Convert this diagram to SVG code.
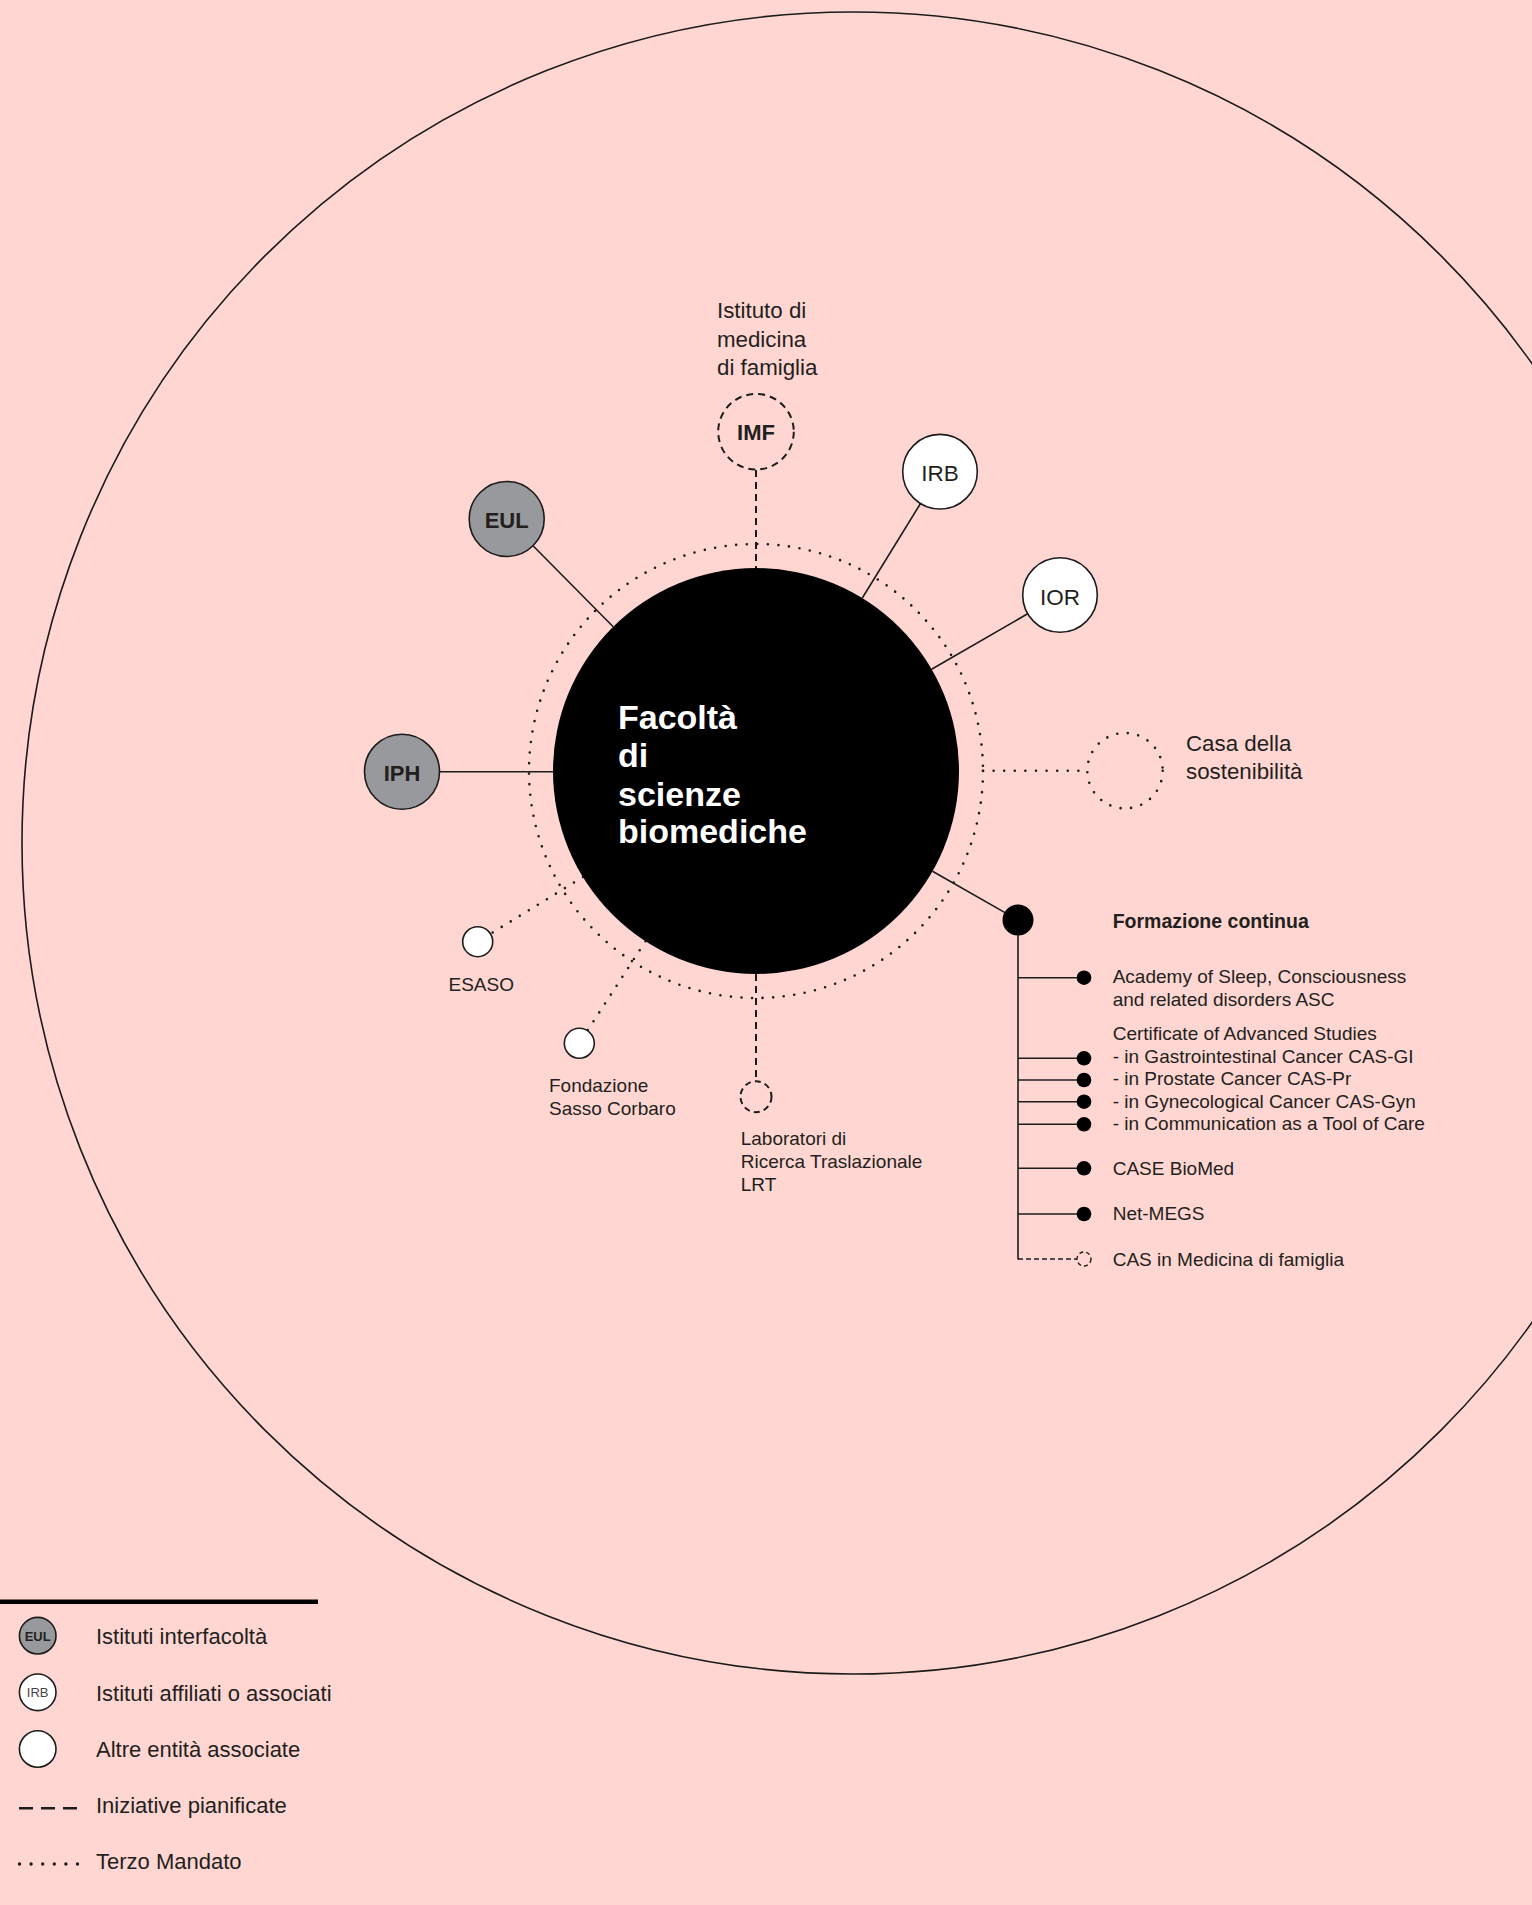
<svg xmlns="http://www.w3.org/2000/svg" width="1532" height="1905" viewBox="0 0 1532 1905">
<style>
text{font-family:"Liberation Sans",Arial,sans-serif;fill:#231f20}
.ln{stroke:#1c1c1c;stroke-width:1.6;fill:none}
.dot{stroke:#1c1c1c;stroke-width:2.6;fill:none;stroke-dasharray:0 10.6;stroke-linecap:round}
.dash{stroke:#1c1c1c;stroke-width:2;fill:none;stroke-dasharray:7 5}
.gray{fill:#98999c;stroke:#1c1c1c;stroke-width:1.6}
.white{fill:#ffffff;stroke:#1c1c1c;stroke-width:1.6}
.lbl{font-size:22.3px}
.sm{font-size:19px}
.nb{font-size:22px;font-weight:bold;text-anchor:middle}
.nr{font-size:22.5px;text-anchor:middle}
.lg{font-size:22px}
.bd{fill:#000}
.wt{font-size:34px;font-weight:bold;fill:#fff}
</style>
<rect width="1532" height="1905" fill="#ffd6d1"/>
<circle class="ln" cx="853" cy="843" r="831"/>

<g id="connectors">
  <line class="dash" x1="756" y1="470" x2="756" y2="568"/>
  <line class="ln" x1="862.3" y1="598" x2="920.5" y2="503.5"/>
  <line class="ln" x1="931.6" y1="669.3" x2="1027.6" y2="613.8"/>
  <line class="ln" x1="613.2" y1="626.7" x2="533" y2="545.7"/>
  <line class="ln" x1="553" y1="771.7" x2="439.5" y2="771.7"/>
  <line class="dot" x1="983" y1="770.7" x2="1087" y2="770.7"/>
  <line class="dot" x1="583" y1="877" x2="491" y2="933.5"/>
  <line class="dot" x1="645.5" y1="941.3" x2="587.5" y2="1030.5"/>
  <line class="dash" x1="756" y1="974" x2="756" y2="1081"/>
  <line class="ln" x1="932.5" y1="871.3" x2="1005" y2="912.6"/>
  <line class="ln" x1="1018" y1="920" x2="1018" y2="1259.5"/>
  <line class="ln" x1="1018" y1="977.7" x2="1084" y2="977.7"/>
  <line class="ln" x1="1018" y1="1058.3" x2="1084" y2="1058.3"/>
  <line class="ln" x1="1018" y1="1080" x2="1084" y2="1080"/>
  <line class="ln" x1="1018" y1="1101.7" x2="1084" y2="1101.7"/>
  <line class="ln" x1="1018" y1="1124.3" x2="1084" y2="1124.3"/>
  <line class="ln" x1="1018" y1="1168.3" x2="1084" y2="1168.3"/>
  <line class="ln" x1="1018" y1="1214" x2="1084" y2="1214"/>
  <line x1="1018" y1="1259" x2="1077" y2="1259" stroke="#1c1c1c" stroke-width="1.4" stroke-dasharray="5 3"/>
</g>

<g id="faculty">
  <circle class="dot" cx="756" cy="771" r="227"/>
  <circle cx="756" cy="771" r="203" fill="#000"/>
  <text class="wt" x="618" y="729.3" style="fill:#fff">Facoltà</text>
  <text class="wt" x="618" y="767.3" style="fill:#fff">di</text>
  <text class="wt" x="618" y="806" style="fill:#fff">scienze</text>
  <text class="wt" x="618" y="843.3" style="fill:#fff">biomediche</text>
</g>

<g id="imf">
  <circle cx="756" cy="431.7" r="37.8" fill="none" class="dash"/>
  <text class="nb" x="756" y="440">IMF</text>
  <text class="lbl" x="717" y="318.3">Istituto di</text>
  <text class="lbl" x="717" y="346.7">medicina</text>
  <text class="lbl" x="717" y="375">di famiglia</text>
</g>

<g id="irb">
  <circle class="white" cx="940" cy="471.7" r="37.3"/>
  <text class="nr" x="940" y="481">IRB</text>
</g>

<g id="ior">
  <circle class="white" cx="1060" cy="595" r="37.3"/>
  <text class="nr" x="1060" y="604.5">IOR</text>
</g>

<g id="eul">
  <circle class="gray" cx="506.7" cy="519" r="37.5"/>
  <text class="nb" x="506.7" y="527.7">EUL</text>
</g>

<g id="iph">
  <circle class="gray" cx="402" cy="771.7" r="37.5"/>
  <text class="nb" x="402" y="780.7">IPH</text>
</g>

<g id="casa">
  <circle class="dot" cx="1125" cy="770.7" r="37.7"/>
  <text class="lbl" x="1186" y="751">Casa della</text>
  <text class="lbl" x="1186" y="779">sostenibilità</text>
</g>

<g id="esaso">
  <circle class="white" cx="477.7" cy="941.7" r="15"/>
  <text class="sm" x="448.5" y="990.7">ESASO</text>
</g>

<g id="fondazione">
  <circle class="white" cx="579.3" cy="1043.3" r="15"/>
  <text class="sm" x="549" y="1091.7">Fondazione</text>
  <text class="sm" x="549" y="1115">Sasso Corbaro</text>
</g>

<g id="lrt">
  <circle cx="756" cy="1096.7" r="15.5" fill="none" stroke="#1c1c1c" stroke-width="2" stroke-dasharray="6 4.2"/>
  <text class="sm" x="740.7" y="1145">Laboratori di</text>
  <text class="sm" x="740.7" y="1168.3">Ricerca Traslazionale</text>
  <text class="sm" x="740.7" y="1190.7">LRT</text>
</g>

<g id="formazione">
  <circle class="bd" cx="1018" cy="920" r="15.5"/>
  <text x="1112.7" y="928" font-size="19.5" font-weight="bold">Formazione continua</text>
  <circle class="bd" cx="1084" cy="977.7" r="7.3"/>
  <text class="sm" x="1112.7" y="983">Academy of Sleep, Consciousness</text>
  <text class="sm" x="1112.7" y="1006">and related disorders ASC</text>
  <text class="sm" x="1112.7" y="1040">Certificate of Advanced Studies</text>
  <circle class="bd" cx="1084" cy="1058.3" r="7.3"/>
  <text class="sm" x="1112.7" y="1062.7">- in Gastrointestinal Cancer CAS-GI</text>
  <circle class="bd" cx="1084" cy="1080" r="7.3"/>
  <text class="sm" x="1112.7" y="1085">- in Prostate Cancer CAS-Pr</text>
  <circle class="bd" cx="1084" cy="1101.7" r="7.3"/>
  <text class="sm" x="1112.7" y="1107.7">- in Gynecological Cancer CAS-Gyn</text>
  <circle class="bd" cx="1084" cy="1124.3" r="7.3"/>
  <text class="sm" x="1112.7" y="1130">- in Communication as a Tool of Care</text>
  <circle class="bd" cx="1084" cy="1168.3" r="7.3"/>
  <text class="sm" x="1112.7" y="1175">CASE BioMed</text>
  <circle class="bd" cx="1084" cy="1214" r="7.3"/>
  <text class="sm" x="1112.7" y="1220">Net-MEGS</text>
  <circle cx="1084" cy="1259" r="7" fill="none" stroke="#1c1c1c" stroke-width="1.4" stroke-dasharray="4 3"/>
  <text class="sm" x="1112.7" y="1266">CAS in Medicina di famiglia</text>
</g>

<g id="legend">
  <line x1="0" y1="1601.7" x2="318" y2="1601.7" stroke="#000" stroke-width="4.5"/>
  <circle class="gray" cx="37.7" cy="1635.7" r="18.3"/>
  <text x="37.7" y="1640.5" font-size="13" font-weight="bold" text-anchor="middle">EUL</text>
  <text class="lg" x="96" y="1644">Istituti interfacoltà</text>
  <circle class="white" cx="37.7" cy="1692.3" r="18.3"/>
  <text x="37.7" y="1697" font-size="13" text-anchor="middle" style="fill:#444">IRB</text>
  <text class="lg" x="96" y="1700.7">Istituti affiliati o associati</text>
  <circle class="white" cx="37.7" cy="1749" r="18.3"/>
  <text class="lg" x="96" y="1756.7">Altre entità associate</text>
  <line x1="19" y1="1808.3" x2="77" y2="1808.3" stroke="#1c1c1c" stroke-width="2.5" stroke-dasharray="14 8"/>
  <text class="lg" x="96" y="1813">Iniziative pianificate</text>
  <line x1="19.5" y1="1864" x2="78" y2="1864" stroke="#1c1c1c" stroke-width="3.4" stroke-linecap="round" stroke-dasharray="0 11.6"/>
  <text class="lg" x="96" y="1869.3">Terzo Mandato</text>
</g>
</svg>
